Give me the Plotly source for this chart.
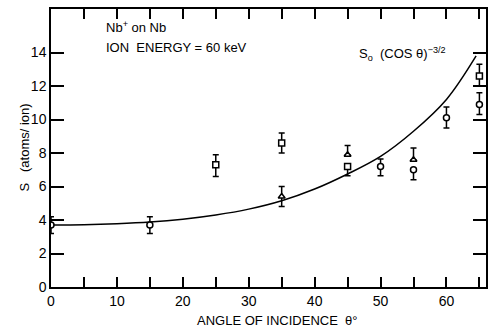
import plotly.graph_objects as go

# Measured points (angle in degrees, sputtering yield S)
circ_x = [0, 15, 50, 55, 60, 65]
circ_y = [3.7, 3.7, 7.2, 7.0, 10.1, 10.9]
circ_up = [0.5, 0.5, 0.45, 0.0, 0.65, 0.7]
circ_dn = [0.5, 0.5, 0.55, 0.6, 0.6, 0.6]

sq_x = [25, 35, 45, 65]
sq_y = [7.3, 8.6, 7.2, 12.6]
sq_up = [0.6, 0.6, 0.0, 0.7]
sq_dn = [0.7, 0.6, 0.55, 0.6]

tri_x = [35, 45, 55]
tri_y = [5.4, 7.9, 7.6]
tri_up = [0.6, 0.55, 0.7]
tri_dn = [0.6, 0.0, 0.0]

# Curve S0 (cos θ)^-3/2
curve_x = [0, 5, 10, 15, 20, 25, 30, 35, 40, 45, 50, 55, 60, 64.5]
curve_y = [3.7, 3.72, 3.78, 3.88, 4.05, 4.3, 4.65, 5.15, 5.85, 6.75, 7.8, 9.3, 11.2, 13.8]

x_ticks = [0, 5, 10, 15, 20, 25, 30, 35, 40, 45, 50, 55, 60, 65]
x_labels = ["0", "", "10", "", "20", "", "30", "", "40", "", "50", "", "60", ""]
y_ticks = [0, 2, 4, 6, 8, 10, 12, 14]
y_labels = ["0", "2", "4", "6", "8", "10", "12", "14"]

FONT = "Liberation Sans"
fig = go.Figure()

fig.add_trace(go.Scatter(x=curve_x, y=curve_y, mode="lines",
                         line=dict(color="black", width=1.5, shape="spline"),
                         showlegend=False, hoverinfo="skip"))

def pts(x, y, up, dn, sym):
    return go.Scatter(
        x=x, y=y, mode="markers",
        marker=dict(symbol=sym, size=6, color="white",
                    line=dict(color="black", width=1.5)),
        error_y=dict(type="data", array=up, arrayminus=dn, symmetric=False,
                     color="black", thickness=1.5, width=3),
        showlegend=False)

fig.add_trace(pts(circ_x, circ_y, circ_up, circ_dn, "circle"))
fig.add_trace(pts(sq_x, sq_y, sq_up, sq_dn, "square"))
fig.add_trace(pts(tri_x, tri_y, tri_up, tri_dn, "triangle-up"))

fig.update_xaxes(range=[0, 66], tickvals=x_ticks, ticktext=x_labels,
                 ticks="inside", ticklen=10, tickwidth=1.5, tickcolor="black",
                 showline=True, linecolor="black", linewidth=1.5, mirror="ticks",
                 showgrid=False, zeroline=False,
                 tickfont=dict(family=FONT, size=14, color="black"))
fig.update_yaxes(range=[0, 16.6], tickvals=y_ticks, ticktext=y_labels,
                 ticks="inside", ticklen=13, tickwidth=1.5, tickcolor="black",
                 showline=True, linecolor="black", linewidth=1.5, mirror="ticks",
                 showgrid=False, zeroline=False,
                 tickfont=dict(family=FONT, size=14, color="black"))

ann_font = dict(family=FONT, size=13, color="black")
fig.add_annotation(x=8, y=15.5, xref="x", yref="y", xanchor="left",
                   text="Nb<sup>+</sup> on Nb", showarrow=False, font=ann_font)
fig.add_annotation(x=8, y=14.3, xref="x", yref="y", xanchor="left",
                   text="ION  ENERGY = 60 keV", showarrow=False, font=ann_font)
fig.add_annotation(x=46.5, y=13.9, xref="x", yref="y", xanchor="left",
                   text="S<sub>o</sub>  (COS θ)<sup>−3/2</sup>", showarrow=False, font=ann_font)
fig.add_annotation(x=0.52, y=-0.119, xref="paper", yref="paper", yanchor="middle",
                   text="ANGLE OF INCIDENCE  θ°", showarrow=False, font=ann_font)
fig.add_annotation(x=-0.085, y=0.5, xref="paper", yref="paper",
                   text="S   (atoms/ ion)", textangle=-90, showarrow=False, font=ann_font)

fig.update_layout(width=495, height=333,
                  margin=dict(l=51, r=7, t=9, b=46),
                  plot_bgcolor="white", paper_bgcolor="white")

fig.write_html("out.html")
